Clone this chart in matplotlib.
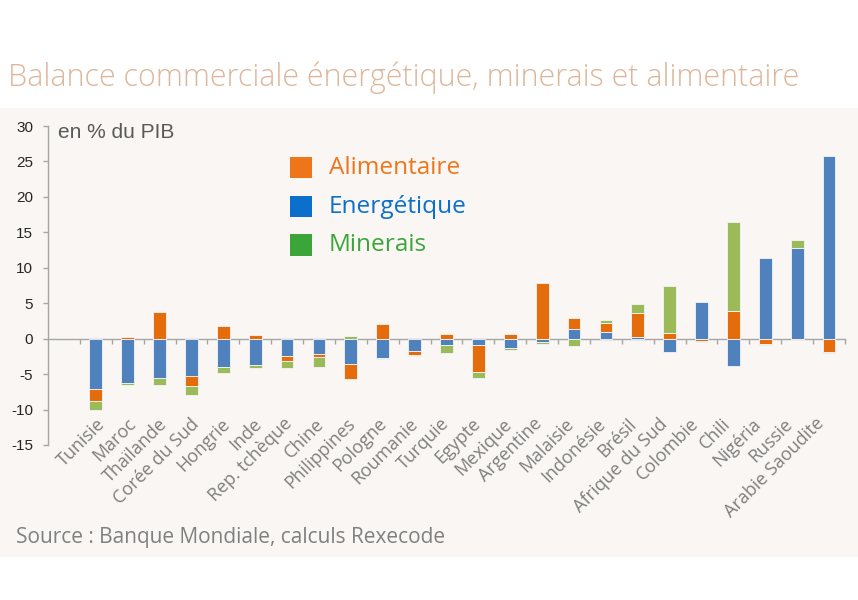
import numpy as np
import matplotlib
matplotlib.use("Agg")
import matplotlib.pyplot as plt
from matplotlib.patches import Rectangle
import matplotlib.transforms as mtransforms

countries = ["Tunisie", "Maroc", "Thaïlande", "Corée du Sud", "Hongrie", "Inde",
             "Rep. tchèque", "Chine", "Philippines", "Pologne", "Roumanie", "Turquie",
             "Egypte", "Mexique", "Argentine", "Malaisie", "Indonésie", "Brésil",
             "Afrique du Sud", "Colombie", "Chili", "Nigéria", "Russie", "Arabie Saoudite"]

energetique = [-7.15, -6.2, -5.5, -5.2, -4.0, -3.75, -2.45, -2.1, -3.6, -2.7, -1.8, -0.95,
               -0.9, -1.35, -0.4, 1.3, 0.95, 0.2, -1.95, 5.15, -3.85, 11.4, 12.8, 25.7]
alimentaire = [-1.7, 0.3, 3.7, -1.45, 1.75, 0.5, -0.75, -0.5, -2.1, 2.0, -0.5, 0.6,
               -3.75, 0.6, 7.8, 1.65, 1.3, 3.4, 0.85, -0.3, 3.9, -0.7, -0.25, -1.85]
minerais = [-1.2, -0.4, -1.0, -1.3, -0.9, -0.45, -1.0, -1.35, 0.4, -0.1, -0.2, -1.1,
            -0.95, -0.2, -0.3, -1.0, 0.35, 1.25, 6.6, -0.15, 12.5, -0.15, 1.1, -0.15]

yticks = [30, 25, 20, 15, 10, 5, 0, -5, -10, -15]

series = [("Energétique", energetique, "#4F81BD"),
          ("Alimentaire", alimentaire, "#E46C0A"),
          ("Minerais", minerais, "#9BBB59")]

legend_items = [("Alimentaire", "#EE7518"), ("Energétique", "#0B6FCB"), ("Minerais", "#3BA53A")]

SANS = ["Open Sans", "DejaVu Sans"]

fig = plt.figure(figsize=(8.58, 6.0), dpi=100)
fig.patch.set_facecolor("white")

# beige panel
fig.patches.append(Rectangle((0, 1 - 557 / 600), 1, (557 - 108) / 600,
                             transform=fig.transFigure, facecolor="#F9F6F3",
                             edgecolor="none", zorder=-5))

ax = fig.add_axes([48 / 858, 1 - 445 / 600, (845 - 48) / 858, (445 - 126) / 600])
ax.set_facecolor("none")
ax.set_zorder(2)

x = np.arange(len(countries))
pos_bottom = np.zeros(len(countries))
neg_bottom = np.zeros(len(countries))
for name, vals, col in series:
    v = np.array(vals, dtype=float)
    bottoms = np.where(v >= 0, pos_bottom, neg_bottom)
    ax.bar(x, v, width=0.4, bottom=bottoms, color=col, edgecolor="#F3F5FA",
           linewidth=0.6, zorder=3)
    pos_bottom = pos_bottom + np.where(v >= 0, v, 0)
    neg_bottom = neg_bottom + np.where(v < 0, v, 0)

ax.set_xlim(-1.5, len(countries) - 0.5)
ax.set_ylim(-15, 30)

for s in ["top", "right"]:
    ax.spines[s].set_visible(False)
ax.spines["left"].set_color("#A6A6A6")
ax.spines["left"].set_linewidth(1.0)
ax.spines["bottom"].set_position(("data", 0))
ax.spines["bottom"].set_color("#A6A6A6")
ax.spines["bottom"].set_linewidth(1.0)
ax.spines["bottom"].set_zorder(2)

ax.set_xticks(np.arange(-0.5, len(countries), 1.0))
ax.set_xticklabels([])
ax.tick_params(axis="x", length=3.5, width=1.0, color="#A6A6A6", direction="out")

ax.set_yticks(yticks)
ax.set_yticklabels([str(t) for t in yticks])
ax.tick_params(axis="y", length=3.6, width=1.0, color="#A6A6A6", pad=7,
               labelsize=11, labelcolor="#262626")
for lab in ax.get_yticklabels():
    lab.set_family(["Liberation Sans Narrow", "Liberation Sans", "DejaVu Sans"])

# category labels
trans = mtransforms.blended_transform_factory(ax.transData, ax.transAxes)
n = len(countries)
for i, c in enumerate(countries):
    off = 0.2 - 0.45 * i / (n - 1)
    ax.text(i + off, 0.075, c, rotation=45, ha="right", va="center",
            rotation_mode="anchor", transform=trans, fontsize=13,
            color="#7F7F7F", family=SANS)

# unit label
fig.text(58 / 858, 1 - 133 / 600, "en % du PIB", fontsize=15, color="#595959",
         va="center", ha="left", family=["Liberation Sans", "DejaVu Sans"])

# legend
for k, (name, col) in enumerate(legend_items):
    yc = [167.5, 206.5, 245][k]
    fig.patches.append(Rectangle((290 / 858, 1 - (yc + 10.5) / 600), 22 / 858, 21 / 600,
                                 transform=fig.transFigure, facecolor=col,
                                 edgecolor="none", zorder=5))
    fig.text(329 / 858, 1 - yc / 600, name, fontsize=17.6, color=col, va="center",
             ha="left", family=SANS)

# title
fig.text(8 / 858, 1 - 78 / 600, "Balance commerciale énergétique, minerais et alimentaire",
         fontsize=22, color="#DDB79C", va="center", ha="left",
         family=SANS, fontweight="light")

# source
fig.text(16 / 858, 1 - 538 / 600, "Source : Banque Mondiale, calculs Rexecode",
         fontsize=15, color="#808080", va="center", ha="left", family=SANS)

fig.savefig("out.png", dpi=100, facecolor=fig.get_facecolor())
